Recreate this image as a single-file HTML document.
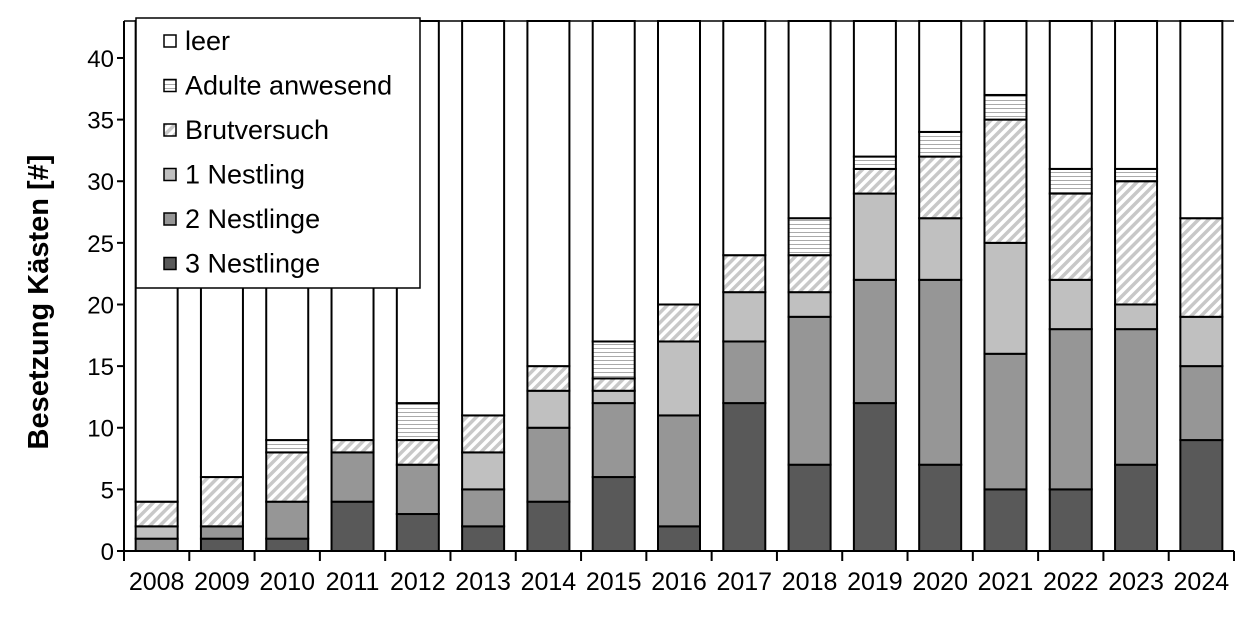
<!DOCTYPE html>
<html><head><meta charset="utf-8"><style>
body{margin:0;background:#fff}
svg text{font-family:"Liberation Sans",Arial,sans-serif;fill:#000}
</style></head><body>
<svg id="c" width="1240" height="612" viewBox="0 0 1240 612">
<defs>
<pattern id="diag" patternUnits="userSpaceOnUse" width="7" height="7" patternTransform="rotate(-45)">
<rect width="7" height="7" fill="#fff"/><rect width="7" height="3.5" fill="#c8c8c8"/></pattern>
<pattern id="horiz" patternUnits="userSpaceOnUse" width="6" height="4">
<rect width="6" height="4" fill="#fff"/><rect y="0" width="6" height="1" fill="#aaa"/></pattern>
</defs>
<g id="bars"></g>
<g id="axes"></g>
<g id="legend"></g>
</svg>
<script>
const years=["2008","2009","2010","2011","2012","2013","2014","2015","2016","2017","2018","2019","2020","2021","2022","2023","2024"];
const n3=[0,1,1,4,3,2,4,6,2,12,7,12,7,5,5,7,9];
const n2=[1,1,3,4,4,3,6,6,9,5,12,10,15,11,13,11,6];
const n1=[1,0,0,0,0,3,3,1,6,4,2,7,5,9,4,2,4];
const brut=[2,4,4,1,2,3,2,1,3,3,3,2,5,10,7,10,8];
const adult=[0,0,1,0,3,0,0,3,0,0,3,1,2,2,2,1,0];
const total=43;
const yTicks=[0,5,10,15,20,25,30,35,40];
const NS="http://www.w3.org/2000/svg";
const X0=124,X1=1234,Y0=551,Y43=21;
const cw=(X1-X0)/years.length, bw=42;
const y=v=>Y0-v*(Y0-Y43)/total;
const xc=i=>X0+cw*(i+0.5);
function mk(tag,attrs,parent){const e=document.createElementNS(NS,tag);for(const k in attrs)e.setAttribute(k,attrs[k]);parent.appendChild(e);return e;}
const series=[n3,n2,n1,brut,adult];
const fills=["#595959","#969696","#c0c0c0","url(#diag)","url(#horiz)"];
const names=["seg-3-nestlinge","seg-2-nestlinge","seg-1-nestling","seg-brutversuch","seg-adulte"];
const bars=document.getElementById('bars');
years.forEach((yr,i)=>{
  let base=0;
  series.forEach((s,k)=>{
    const v=s[i]; if(v<=0) return;
    const r=mk('rect',{x:xc(i)-bw/2,y:y(base+v),width:bw,height:y(base)-y(base+v),fill:fills[k],stroke:"#000","stroke-width":2},bars);
    
    
    base+=v;
  });
  const r=mk('rect',{x:xc(i)-bw/2,y:y(total),width:bw,height:y(base)-y(total),fill:"#fff",stroke:"#000","stroke-width":2},bars);
  
  
});
const ax=document.getElementById('axes');
mk('line',{x1:X0,y1:Y43,x2:X0,y2:Y0,stroke:"#000","stroke-width":2},ax);
mk('line',{x1:X0,y1:Y0,x2:X1,y2:Y0,stroke:"#000","stroke-width":2},ax);
mk('line',{x1:X0,y1:Y43,x2:X1,y2:Y43,stroke:"#000","stroke-width":1.5},ax);
yTicks.forEach(t=>{
  mk('line',{x1:X0-7,y1:y(t),x2:X0,y2:y(t),stroke:"#000","stroke-width":2},ax);
  const tx=mk('text',{x:X0-10,y:y(t)+9,"text-anchor":"end","font-size":24},ax);
  tx.textContent=t;
  
  
});
for(let i=0;i<=years.length;i++){
  mk('line',{x1:X0+cw*i,y1:Y0,x2:X0+cw*i,y2:Y0+10,stroke:"#000","stroke-width":2},ax);
}
years.forEach((yr,i)=>{
  const tx=mk('text',{x:xc(i),y:590,"text-anchor":"middle","font-size":25},ax);
  tx.textContent=yr;
  
  
});
const yt=mk('text',{x:0,y:0,"text-anchor":"middle","font-size":29,"font-weight":"bold",transform:"translate(48,302) rotate(-90)"},ax);
yt.textContent="Besetzung Kästen [#]";


const lg=document.getElementById('legend');
const lb=mk('rect',{x:136,y:18,width:284,height:270,fill:"#fff",stroke:"#000","stroke-width":1.5},lg);


const lNames=["leer","Adulte anwesend","Brutversuch","1 Nestling","2 Nestlinge","3 Nestlinge"];
const lFills=["#fff","url(#horiz)","url(#diag)","#c0c0c0","#969696","#595959"];
lNames.forEach((nm,j)=>{
  const cy=41+j*44.5;
  const g=mk('g',{},lg);
  
  
  mk('rect',{x:164,y:cy-6,width:12,height:12,fill:lFills[j],stroke:"#000","stroke-width":1.5},g);
  const t=mk('text',{x:185,y:cy+9,"font-size":27},g);
  t.textContent=nm;
});
</script>
</body></html>
